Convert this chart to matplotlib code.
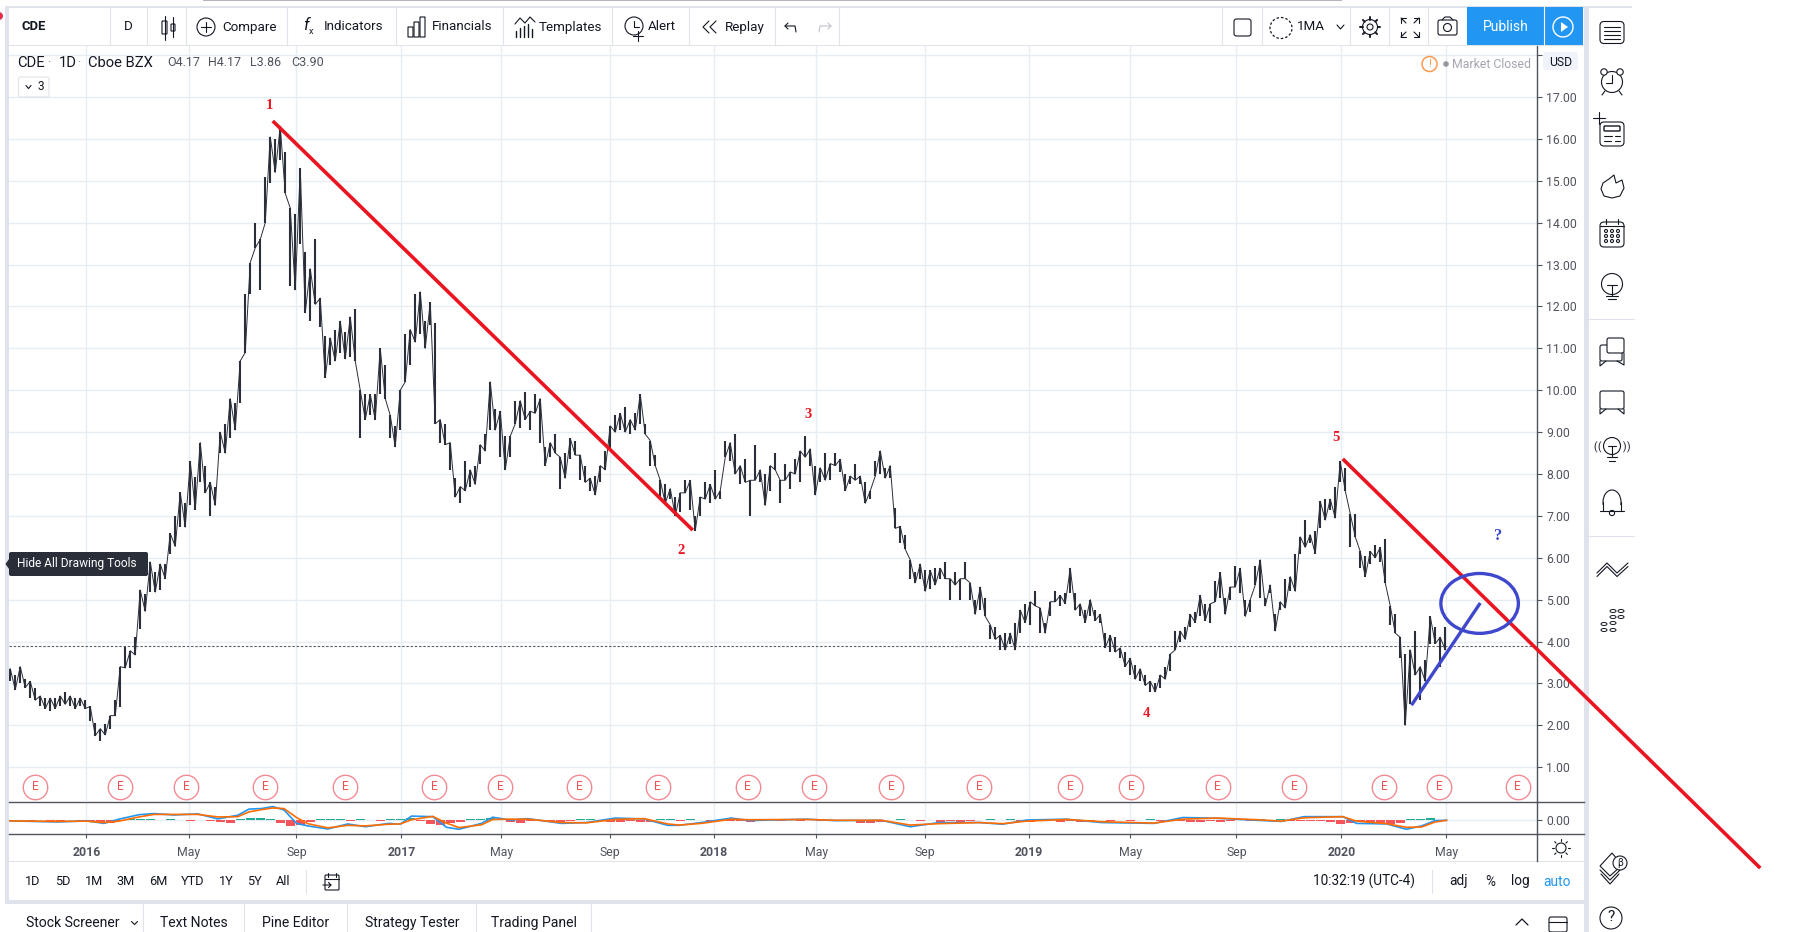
import numpy as np
import matplotlib
matplotlib.use("Agg")
import matplotlib.pyplot as plt
from matplotlib.patches import Rectangle, Circle, Ellipse, FancyBboxPatch, Polygon

# ------------------------------ DATA ------------------------------
highs = [3.35,3.2,3.4,3.1,3.05,2.9,2.7,2.65,2.65,2.65,
 2.7,2.8,2.7,2.65,2.65,2.6,2.45,2.05,1.92,2.03,
 2.23,2.6,3.4,3.88,3.78,4.1,5.23,5.13,5.9,5.65,
 5.85,5.85,6.58,7.0,7.56,7.3,8.3,7.93,8.75,8.2,
 7.8,7.7,9.0,9.2,9.8,9.7,10.7,12.3,13.05,14.0,
 13.6,15.1,16.05,16.0,16.3,15.7,14.35,14.2,15.3,13.3,
 12.9,13.6,12.2,11.3,11.25,11.45,11.65,11.4,11.75,11.95,
 10.0,9.9,9.9,9.9,11.0,10.6,9.4,9.15,10.0,11.35,
 11.45,12.3,12.35,11.65,12.1,11.6,9.3,9.2,8.75,7.9,
 7.7,8.3,8.1,8.2,8.7,8.95,10.2,9.55,9.5,8.9,
 8.9,9.75,9.75,9.95,9.5,9.9,9.8,8.65,8.75,8.95,
 8.4,8.5,8.85,8.8,8.45,8.2,7.9,7.95,8.2,8.55,
 9.15,9.4,9.45,9.6,9.3,9.45,9.9,9.2,8.8,8.45,
 7.85,7.75,7.65,7.45,7.55,7.85,7.85,7.0,7.45,7.8,
 7.75,8.1,7.6,8.8,8.75,8.95,8.2,8.35,7.85,8.7,
 8.1,8.0,8.2,8.5,7.85,8.25,8.05,8.35,8.55,8.9,
 8.6,8.2,8.15,8.5,8.25,8.5,8.35,8.0,7.95,8.25,
 7.95,7.8,7.6,8.3,8.55,8.15,8.2,7.2,6.75,6.55,
 5.95,5.65,5.85,5.7,5.7,5.75,5.75,5.9,5.5,5.65,
 5.5,5.9,5.4,5.0,5.3,5.05,4.4,4.35,4.15,4.2,
 4.2,4.45,4.75,4.9,4.95,5.2,4.8,4.45,4.95,5.2,
 5.1,5.15,5.75,5.15,4.9,4.75,5.0,4.75,4.65,4.2,
 4.15,4.1,3.85,3.75,3.6,3.45,3.35,3.2,3.05,3.0,
 3.2,3.4,3.7,4.25,4.25,4.35,4.65,4.7,5.1,4.9,
 4.9,5.45,5.65,5.05,5.3,5.8,5.75,5.0,5.0,5.8,
 5.95,5.05,5.35,4.65,4.95,5.5,5.55,6.1,6.5,6.9,
 6.55,6.65,7.35,7.4,7.4,7.7,8.3,8.15,7.05,7.05,
 6.15,6.05,6.15,6.3,6.25,6.45,4.85,4.65,4.1,3.7,
 3.8,4.25,3.4,3.55,4.6,4.35,4.1,4.35]
lows = [3.05,2.85,3.0,2.9,2.65,2.6,2.45,2.4,2.35,2.4,
 2.45,2.5,2.45,2.4,2.45,2.4,2.1,1.75,1.63,1.77,
 1.92,2.23,2.44,3.37,3.37,3.68,4.3,4.72,5.18,5.18,
 5.23,5.5,6.1,6.27,6.73,6.73,7.25,7.15,7.8,7.55,
 7.0,7.25,8.5,8.5,8.85,9.05,9.7,10.9,12.3,13.4,
 12.4,14.0,14.96,15.2,15.5,14.7,12.5,12.4,13.5,11.85,
 11.65,12.05,11.5,10.3,10.6,10.7,10.9,10.75,10.8,10.7,
 8.85,9.3,9.4,9.3,9.9,9.8,8.85,8.65,9.05,10.2,
 10.6,11.15,11.35,11.0,11.55,9.2,8.75,8.7,8.1,7.45,
 7.3,7.6,7.7,7.75,8.25,8.55,9.05,9.05,8.4,8.1,
 8.4,9.2,9.1,9.3,9.05,9.45,8.75,8.2,8.4,8.5,
 7.65,7.9,8.35,8.45,7.85,7.8,7.6,7.5,7.8,8.1,
 8.55,9.0,9.05,9.0,8.95,9.05,9.2,8.95,8.2,8.2,
 7.4,7.3,7.4,7.0,7.1,7.55,7.15,6.65,7.0,7.4,
 7.3,7.4,7.4,8.4,8.3,8.0,7.75,7.8,7.0,7.85,
 7.8,7.25,7.6,8.1,7.3,7.85,7.65,8.0,7.8,8.4,
 8.2,7.5,7.8,7.85,7.85,8.2,8.05,7.6,7.75,7.85,
 7.75,7.3,7.4,7.95,8.0,7.9,7.9,6.7,6.35,6.2,
 5.5,5.4,5.5,5.2,5.25,5.35,5.5,5.5,5.0,5.35,
 5.0,5.5,5.0,4.65,4.75,4.6,4.05,4.05,3.8,3.8,
 3.95,3.8,4.2,4.45,4.4,4.85,4.2,4.2,4.6,4.95,
 4.85,4.9,5.15,4.75,4.6,4.45,4.6,4.5,4.45,3.85,
 3.75,3.75,3.6,3.4,3.2,3.1,3.05,2.95,2.8,2.8,
 2.9,3.1,3.3,3.8,4.0,4.05,4.35,4.45,4.6,4.5,
 4.45,4.95,5.05,4.65,5.0,5.3,5.15,4.6,4.7,5.35,
 5.05,4.85,5.15,4.25,4.75,4.8,5.2,5.2,6.1,6.25,
 6.35,6.1,6.7,6.9,7.15,6.95,7.8,7.6,6.25,6.5,
 5.75,5.55,5.85,6.0,5.9,5.4,4.4,4.2,3.6,2.0,
 2.5,3.2,2.6,3.05,3.95,3.95,3.4,3.8]
FIRST_BAR = -61
BAR_STEP = 4

macd_bars = [-62,-23,0,14,26,42,54,70,89,105,121,130,140,149,158,168,177,193,209,223,
 242,251,260,277,288,298,316,325,339,353,380,400,423,446,465,474,492,516,530,576,
 599,636,659,682,714,733,752,784,812,854,877,905,937,956,974,1005,1016,1040,1056,1068,1079,1088]
macd_line = [-0.02,-0.06,-0.02,-0.11,0.04,0.2,0.24,0.19,0.23,0.05,0.18,0.4,0.42,0.49,0.37,
 -0.11,-0.2,-0.31,-0.13,-0.23,-0.11,-0.14,0.15,0.13,-0.25,-0.32,-0.11,0.11,0.01,0.06,
 -0.11,-0.08,0.08,0.05,-0.18,-0.18,-0.08,0.08,-0.01,0.04,-0.01,0,-0.23,-0.08,-0.08,
 -0.14,0.01,0.04,-0.08,-0.11,0.1,0.07,0,-0.04,0.13,0.13,-0.11,-0.13,-0.32,-0.2,-0.01,0]
signal_line = [-0.02,-0.04,-0.03,-0.08,-0.03,0.12,0.21,0.21,0.21,0.12,0.13,0.3,0.38,0.44,0.42,
 0.1,-0.12,-0.27,-0.18,-0.2,-0.14,-0.13,0.02,0.14,-0.1,-0.26,-0.16,0.03,0.04,0.04,
 -0.08,-0.09,0.03,0.06,-0.13,-0.17,-0.11,0.04,0.02,0.03,0,0,-0.17,-0.12,-0.08,
 -0.12,-0.03,0.03,-0.05,-0.1,0.04,0.08,0.02,-0.03,0.09,0.13,-0.03,-0.12,-0.25,-0.24,-0.06,0]
hist_vals = [0.01,0.01,-0.01,0.01,-0.01,-0.01,0.01,-0.01,-0.02,-0.05,-0.08,-0.04,
 0.03,0.05,0.03,0.02,0.03,0.02,-0.02,0.02,-0.03,-0.06,-0.08,0.04,
 0.08,0.1,0.03,-0.08,-0.22,-0.15,-0.05,0.03,0.05,0.04,-0.03,0.03,
 0.02,-0.03,0.03,0.05,0.07,-0.02,-0.12,-0.15,-0.08,-0.05,0.04,0.06,
 0.07,0.03,-0.06,-0.08,-0.04,0.02,-0.05,-0.06,-0.03,0.04,0.03,0.02,
 -0.05,-0.06,-0.03,-0.07,-0.05,0.03,0.04,-0.02,0.03,0.02,-0.03,0.02,
 -0.04,-0.03,-0.05,-0.02,0.02,-0.02,0.01,-0.03,0.02,-0.03,-0.02,0.02,
 -0.03,-0.08,-0.1,-0.05,0.02,0.03,0.02,-0.02,0.02,-0.05,-0.04,-0.06,
 -0.03,0.02,0.03,0.02,0.03,-0.03,-0.05,-0.04,0.02,-0.06,-0.03,-0.05,
 -0.05,0.02,-0.04,0.02,-0.03,0.02,0.03,-0.02,0.02,-0.03,-0.05,-0.06,
 -0.02,-0.06,-0.03,0.02,-0.02,0.03,-0.02,0.03,-0.04,-0.04,-0.03,-0.02,
 -0.05,-0.12,-0.1,-0.05,-0.08,-0.1,-0.12,-0.1,0.04,0.06,0.08,0.02]
HIST_FIRST = -61
HIST_STEP = 8

time_tick_bars = [0,82,168,252,332,419,502,584,671,754,835,920,1004,1088]
time_tick_labels = ["2016","May","Sep","2017","May","Sep","2018","May","Sep","2019","May","Sep","2020","May"]
year_labels = {"2016","2017","2018","2019","2020"}
price_ticks = list(range(1,18))
earnings_bars = [-41,27,80,143,207,278,331,394,457,529,582,644,714,787,836,905,966,1038,1082,1145]
last_close = 3.90

red_trend1_bars, red_trend1_prices = [149,485], [16.43,6.66]
red_trend2_bars, red_trend2_prices = [1005,1339], [8.36,-1.41]
blue_trend_bars, blue_trend_prices = [1060,1115], [2.48,4.92]
wave_labels = ["1","2","3","4","5"]
wave_bars = [146,476,577,848,1000]
wave_prices = [16.81,6.18,9.43,2.27,8.86]
q_bar, q_price = 1129, 6.52
circle_bar, circle_price, circle_w, circle_h = 1114.5, 4.91, 62, 1.43

# ------------------------------ LAYOUT ------------------------------
W, H = 1820, 932
DARK, TXT, GREY, GRID = "#2a2e39", "#50535e", "#e0e3eb", "#e6eef4"
RED, BLUE = "#ea1520", "#3f48cc"
FONT = "Roboto"
plt.rcParams["font.family"] = [FONT, "DejaVu Sans"]
fig = plt.figure(figsize=(W/100, H/100), dpi=100, facecolor="white")

def rect_px(x0, y0, x1, y1):
    return [x0/W, 1-y1/H, (x1-x0)/W, (y1-y0)/H]

def overlay(z):
    a = fig.add_axes([0,0,1,1], zorder=z)
    a.set_xlim(0,W); a.set_ylim(H,0); a.axis("off"); a.patch.set_alpha(0)
    return a

bg = overlay(0)
fg = overlay(5)

# chrome: panels
for r in [(5,6,1632,7.5),(5,7,9,900),(5,900,1584,904),(1584,7,1589,932),(9,45,1584,46),(9,861,1584,862)]:
    bg.add_patch(Rectangle((r[0],r[1]),r[2]-r[0],r[3]-r[1],fc=GREY,ec="none"))
bg.add_patch(Rectangle((203,0),1139,1.2,fc="#b4b4b4",ec="none"))
bg.add_patch(Circle((-1,16),4,fc="#e8304a",ec="none"))

for x in [110,147,186,287,396,503,612,689,775,839,1222,1262,1350,1389,1428]:
    bg.plot([x,x],[7,45],color=GREY,lw=0.8)
bg.add_patch(Rectangle((1467,7),116,38,fc="#2196f3",ec="none"))
bg.plot([1544,1544],[7,45],color="white",lw=0.8)

def t(x,y,s,size=9.6,color="#131722",ha="center",weight="normal",a=None,**k):
    (a or fg).text(x,y,s,fontsize=size,color=color,ha=ha,va="center",fontweight=weight,**k)

# toolbar text
t(21,27,"CDE",9.4,ha="left",weight="bold")
t(128,27,"D")
t(222,27,"Compare",ha="left")
t(324,27,"Indicators",ha="left")
t(432,27,"Financials",ha="left")
t(539,27,"Templates",ha="left")
t(648,27,"Alert",ha="left")
t(725,27,"Replay",ha="left")
t(1311,27,"1MA")
t(1506,27,"Publish",10,color="white")

ic = dict(color="#131722",lw=0.8,solid_capstyle="round")
def line(xs,ys,a=None,**k):
    d = dict(ic); d.update(k); (a or fg).plot(xs,ys,**d)
def box(x0,y0,x1,y1,r=2,ec="#131722",fc="none",lw=0.8,a=None):
    (a or fg).add_patch(FancyBboxPatch((x0,y0),x1-x0,y1-y0,boxstyle=f"round,pad=0,rounding_size={r}",ec=ec,fc=fc,lw=lw))
def ring(x,y,r,ec="#131722",fc="none",lw=0.8,a=None):
    (a or fg).add_patch(Circle((x,y),r,ec=ec,fc=fc,lw=lw))

# candle icon
box(162,21,167,34,0.5); line([164.5,164.5],[16,40]); box(171,24,175,31,0.5); line([173,173],[17,37])
# compare
ring(206,27,9); line([201,211],[27,27]); line([206,206],[22,32])
# fx
t(306,25,"f",12,style="italic"); t(311,32,"x",6.5)
# financials
for x0,h in [(408,10),(414,15),(420,20)]:
    box(x0,37-h,x0+5,37,0.2)
# templates
line([515,520,525,530,535],[24,18,23,17,22])
for x,h in [(516,6),(520,9),(524,11),(528,13),(532,8)]:
    line([x,x],[37,37-h],lw=1)
# alert
ring(634,26,9); line([634,634,639],[21,27,27]); line([633,643],[36,36]); line([638,638],[31,41])
# replay
line([709,703,709],[21,27,33]); line([716,710,716],[21,27,33])
# undo / redo
line([788,785,788],[23,26,29]); line([785,795,796],[26,26,32])
line([828,831,828],[23,26,29],color="#c0c3cc"); line([831,820,819],[26,26,32],color="#c0c3cc")
# right toolbar
box(1234,19,1251,36,2.5)
fg.add_patch(Ellipse((1281,28),22,21,ec="#131722",fc="none",lw=0.9,ls=(0,(2,1.6))))
line([1337,1340.5,1344],[25,29,25])
ring(1370,27,7.5); ring(1370,27,3)
for ang in np.arange(0,360,45):
    c,s = np.cos(np.radians(ang)),np.sin(np.radians(ang))
    line([1370+7.5*c,1370+10*c],[27+7.5*s,27+10*s],lw=1.4)
for (x,y,dx,dy) in [(1401,18,5,5),(1419,18,-5,5),(1401,37,5,-5),(1419,37,-5,-5)]:
    line([x,x+dx],[y,y+dy]); line([x,x+dx],[y,y]); line([x,x],[y,y+dy])
box(1438,20,1457,35,2); ring(1447.5,27.5,4); line([1442,1445,1450,1453],[20,17,17,20])
ring(1563,27,10,ec="white",lw=1); fg.add_patch(Polygon([[1561,22],[1561,32],[1568,27]],fc="white",ec="none"))

# legend header
t(17,63,"CDE",10.6,ha="left"); t(47,63,"·",9,ha="left",color="#787b86")
t(59,63,"1D",10.6,ha="left"); t(77,63,"·",9,ha="left",color="#787b86")
t(88,63,"Cboe BZX",10.6,ha="left")
for x,s in [(167,"O4.17"),(208,"H4.17"),(250,"L3.86"),(291,"C3.90")]:
    t(x,63,s,9,color=TXT,ha="left")
box(18.5,77,49,97,2,ec=GREY)
line([26,28.5,31],[85.5,88.5,85.5],lw=0.8); t(41,87,"3",8.6)
t(1452,64,"Market Closed",8.8,color="#a3a6af",ha="left")
fg.add_patch(Circle((1446,64),2.8,fc="#9598a1",ec="none"))
ring(1429.5,64,7.5,ec="#ff9850",lw=1.1); t(1429.5,64,"!",8,color="#ff9850")
box(1543,52,1578,70,3,ec="none",fc="#f0f3fa"); t(1560.5,62,"USD",8.8)

# tooltip
fg.add_patch(FancyBboxPatch((9,552),139,24,boxstyle="round,pad=0,rounding_size=2",fc=DARK,ec="none"))
fg.add_patch(Polygon([[9,559],[9,569],[5.5,564]],fc=DARK,ec="none"))
t(17,564,"Hide All Drawing Tools",8.6,color="white",ha="left")

# bottom bar
for x,s in [(33,"1D"),(63,"5D"),(94,"1M"),(126,"3M"),(158,"6M"),(193,"YTD"),(226,"1Y"),(254,"5Y"),(283,"All")]:
    t(x,881.5,s,9.2)
line([306,306],[870,893],color=GREY,lw=0.8)
box(325,875,339,890,1); line([328,328],[873,877]); line([336,336],[873,877]); line([325,339],[879,879]); line([323,331,328.5],[885,885,882.5]); line([331,328.5],[885,887.5])
t(1364,881.5,"10:32:19 (UTC-4)",9.8)
line([1432,1432],[870,893],color=GREY,lw=0.8)
t(1458.5,881.5,"adj",9.8); t(1490,881.5,"%",9.8); t(1520,881.5,"log",9.8); t(1557,881.5,"auto",10,color="#2196f3")
# tabs
for x in [143,244,347,476,591]:
    line([x,x],[904,932],color=GREY,lw=0.8)
for x,s in [(72.5,"Stock Screener"),(194,"Text Notes"),(296,"Pine Editor"),(412,"Strategy Tester"),(534,"Trading Panel")]:
    t(x,923,s,10.1)
line([131.5,134.5,137.5],[921.5,924.5,921.5],lw=0.8)
line([1516,1522,1528],[925,919,925],lw=0.9)
box(1549,917,1567,932,2); line([1549,1567],[922,922])

# right side toolbar icons
box(1600,21.5,1624,43.5,4)
for y in [26.5,30.5,34.5,38.5]:
    line([1604,1620],[y,y])
ring(1612,82,10.5); line([1612,1612,1606],[75,83,83]); ring(1604,72,3.2,fc="white"); ring(1620,72,3.2,fc="white"); line([1605,1602],[91,95]); line([1619,1622],[91,95])
box(1600,122,1624,146,4)
box(1604,126,1620,131,1,lw=1.0); line([1604,1612],[136,136]); line([1615,1620],[136,136]); line([1604,1611],[141,141]); line([1615,1620],[141,141])
line([1599,1599],[112,124]); line([1593,1605],[118,118])
fg.add_patch(Polygon([[1614,175],[1616,183],[1622,180],[1624,188],[1620,196],[1612,198],[1604,196],[1601,189],[1603,183],[1609,179]],ec="#131722",fc="none",lw=0.8,joinstyle="round"))
box(1600,222,1624,247,4); line([1606,1606],[219,224]); line([1618,1618],[219,224]); line([1600,1624],[226,226])
for yy in [231,236,241]:
    for xx in [1606,1612,1618]:
        ring(xx,yy,1.5)
ring(1612,284,10.5); line([1607,1617],[285,285]); line([1612,1612],[285,296]); line([1606,1618],[296,296]); line([1608,1616],[299,299])
for y in [319,536]:
    line([1589,1634],[y,y],color=GREY,lw=0.8)
# chat icons
box(1600,345,1622,361,2); line([1600,1600,1606],[361,366,361])
box(1607,338,1624,353,2,fc="white"); line([1624,1624,1617],[353,365,361])
box(1600,391,1624,409,2); line([1600,1600,1606],[409,414,409]); line([1624,1624,1618],[409,414,409])
ring(1612,446,8.5); line([1608,1616],[446,446]); line([1612,1612],[446,456]); line([1607,1617],[457,457]); line([1609,1615],[461,461])
for dx in (13,17):
    t(1612-dx,447,"(",7.5); t(1612+dx,447,")",7.5)
fg.add_patch(Ellipse((1612,502),18,24,ec="#131722",fc="none",lw=0.8)); fg.add_patch(Rectangle((1600,505),24,11,fc="white",ec="none"))
line([1600,1624],[511,511]); line([1603,1603],[502,511]); line([1621,1621],[502,511]); ring(1612,513,2.6)
for off in (0,3.5):
    line([1597,1607,1617,1628],[573+off,563+off,573+off,563+off],lw=0.8)
for x,ys in [(1604,[624,630]),(1613,[611,617,623,630]),(1621,[611,617])]:
    for y in ys:
        fg.add_patch(Ellipse((x,y),6,3,ec="#131722",fc="none",lw=0.7))
fg.add_patch(Polygon([[1600,866],[1612,853],[1622,865],[1610,876]],ec="#131722",fc="white",lw=0.8))
line([1600,1610,1620],[870,880,870]); line([1601,1610,1619],[874,884,874])
ring(1620,863,7,fc="white"); t(1620,863,"β",7)
ring(1611,918,11); t(1611,917,"?",11)
# sun icon
ring(1561,848,5)
for ang in np.arange(0,360,45):
    c,s = np.cos(np.radians(ang)),np.sin(np.radians(ang))
    line([1561+7*c,1561+9*c],[848+7*s,848+9*s],lw=0.8)

# ------------------------------ PRICE PANE ------------------------------
def bar_lim():
    return (9-86.5)/1.25, (1537-86.5)/1.25

ax = fig.add_axes(rect_px(9,46,1537,802), zorder=3)
ax.patch.set_alpha(0)
ax.set_xlim(*bar_lim()); ax.set_ylim(0.168,18.22)
bars = FIRST_BAR + BAR_STEP*np.arange(len(highs))
ax.set_yticks(price_ticks+[18])
ax.set_xticks(time_tick_bars)
ax.grid(True,color=GRID,lw=1.0,zorder=0); ax.set_axisbelow(True)
for s in ["top","left","bottom"]:
    ax.spines[s].set_visible(False)
ax.spines["right"].set_color(TXT); ax.spines["right"].set_linewidth(1.0)
ax.yaxis.tick_right()
ax.tick_params(axis="x",length=0,labelbottom=False)
ax.tick_params(axis="y",length=3.6,width=0.8,color=TXT,labelcolor=TXT,labelsize=8.8,pad=3)
ax.set_yticklabels([f"{v:.2f}" for v in price_ticks]+[""])
ax.axhline(last_close,color="#5d606b",lw=0.8,ls=(0,(2.2,1.6)),zorder=2)
ax.vlines(bars,lows,highs,color=DARK,lw=1.5,zorder=3)
zz = np.where(np.arange(len(bars))%2==0,np.array(highs),np.array(lows))
ax.plot(bars,zz,color=DARK,lw=0.7,zorder=3)
# earnings
ax.scatter(earnings_bars,[0.53]*len(earnings_bars),s=310,facecolors="white",edgecolors="#f28b93",linewidths=1.0,zorder=4,clip_on=False)
for b in earnings_bars:
    ax.text(b,0.53,"E",color="#ef5350",fontsize=8.6,ha="center",va="center",zorder=5)
# drawings
ax.plot(red_trend1_bars,red_trend1_prices,color=RED,lw=2.6,clip_on=False,zorder=6,solid_capstyle="butt")
ax.plot(red_trend2_bars,red_trend2_prices,color=RED,lw=2.6,clip_on=False,zorder=6,solid_capstyle="butt")
ax.plot(blue_trend_bars,blue_trend_prices,color=BLUE,lw=2.4,clip_on=False,zorder=6,solid_capstyle="butt")
ax.add_patch(Ellipse((circle_bar,circle_price),circle_w,circle_h,ec=BLUE,fc="none",lw=2.4,zorder=6))
for lab,b,p in zip(wave_labels,wave_bars,wave_prices):
    ax.text(b,p,lab,color=RED,fontsize=10.5,family="Liberation Serif",fontweight="bold",ha="center",va="center",zorder=7)
ax.text(q_bar,q_price,"?",color=BLUE,fontsize=12,family="Liberation Serif",fontweight="bold",ha="center",va="center",zorder=7)

# ------------------------------ OSCILLATOR PANE ------------------------------
px = fig.add_axes(rect_px(9,802.3,1537,833.7), zorder=2)
px.set_xlim(*bar_lim()); px.set_ylim((820.3-833.7)/28,(820.3-802.3)/28)
px.set_yticks([0.0]); px.set_xticks(time_tick_bars)
px.grid(True,color=GRID,lw=1.0); px.set_axisbelow(True)
hb = HIST_FIRST + HIST_STEP*np.arange(len(hist_vals))
hv = np.array(hist_vals)
px.bar(hb,hv,width=7,color=np.where(hv<0,"#f4555a","#22ab94"),zorder=2)
px.plot(macd_bars,macd_line,color="#2196f3",lw=1.2,zorder=3)
px.plot(macd_bars,signal_line,color="#ff6d00",lw=1.2,zorder=4)
px.spines["left"].set_visible(False)
for s in ["top","bottom","right"]:
    px.spines[s].set_color(TXT); px.spines[s].set_linewidth(1.0)
px.yaxis.tick_right()
px.tick_params(axis="y",length=3.6,width=0.8,color=TXT,labelcolor=TXT,labelsize=8.8,pad=3)
px.set_yticklabels(["0.00"])
px.set_xticklabels(time_tick_labels)
px.tick_params(axis="x",length=3,width=0.8,color=TXT,labelcolor=TXT,labelsize=8.8,pad=6)
for lab in px.get_xticklabels():
    if lab.get_text() in year_labels:
        lab.set_fontweight("bold")
# pane separators reach the panel edge, the price axis line reaches the time axis bottom
bg.plot([1537,1584],[802.3,802.3],color=TXT,lw=1.0)
bg.plot([1537,1584],[833.7,833.7],color=TXT,lw=1.0)
bg.plot([1537,1537],[833.7,861],color=TXT,lw=1.0)

fig.savefig("out.png",dpi=100,facecolor="white")
